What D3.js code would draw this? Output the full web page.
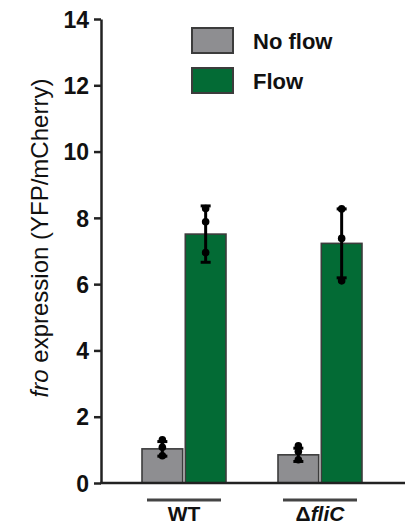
<!DOCTYPE html>
<html>
<head>
<meta charset="utf-8">
<script src="https://cdn.jsdelivr.net/npm/d3@7/dist/d3.min.js"></script>
<style>
  html, body { margin: 0; padding: 0; background: #fff; }
  svg { display: block; }
  text { font-family: "Liberation Sans", Arial, sans-serif; fill: #111; }
</style>
</head>
<body>
<svg id="chart" width="416" height="525"></svg>
<script>
// ---- data ----
const groups = ["WT", "ΔfliC"];
const series = ["No flow", "Flow"];
const colors = ["#8e8e91", "#036b35"];
// means [group][series]
const meanNoFlow = [1.03, 0.85];
const meanFlow = [7.51, 7.23];
const sdNoFlow = [0.22, 0.2];
const sdFlow = [0.85, 1.04];
const pointsNoFlow = [[1.3, 1.08, 0.82], [1.12, 0.95, 0.7]];
const pointsFlow = [[8.28, 7.88, 6.95], [8.27, 7.38, 6.1]];
const yTicks = [0, 2, 4, 6, 8, 10, 12, 14];

const means = [meanNoFlow, meanFlow];
const sds = [sdNoFlow, sdFlow];
const pts = [pointsNoFlow, pointsFlow];

const svg = d3.select("#chart");

const y = d3.scaleLinear().domain([0, 14]).range([483, 19]);
const xg = d3.scalePoint().domain(groups).range([184, 320]);
const xs = d3.scaleBand().domain(series).range([-42, 42]).paddingInner(0.06);

const axisX0 = 101, axisX1 = 405;

// bars
const data = [];
groups.forEach((g, gi) => series.forEach((s, si) => {
  data.push({g, s, si, mean: means[si][gi], sd: sds[si][gi], points: pts[si][gi]});
}));

const barG = svg.append("g");
barG.selectAll("rect").data(data).join("rect")
  .attr("x", d => xg(d.g) + xs(d.s))
  .attr("y", d => y(d.mean))
  .attr("width", xs.bandwidth())
  .attr("height", d => y(0) - y(d.mean))
  .attr("fill", d => colors[d.si])
  .attr("stroke", "#3c3c3c")
  .attr("stroke-width", 1.6);

// error bars
const eb = svg.append("g");
data.forEach(d => {
  const cx = xg(d.g) + xs(d.s) + xs.bandwidth() / 2;
  eb.append("line").attr("x1", cx).attr("x2", cx)
    .attr("y1", y(d.mean - d.sd)).attr("y2", y(d.mean + d.sd))
    .attr("stroke", "#000").attr("stroke-width", 3);
  [d.mean - d.sd, d.mean + d.sd].forEach(v => {
    eb.append("line").attr("x1", cx - 5).attr("x2", cx + 5)
      .attr("y1", y(v)).attr("y2", y(v))
      .attr("stroke", "#000").attr("stroke-width", 3);
  });
  eb.selectAll(null).data(d.points).join("circle")
    .attr("cx", cx).attr("cy", v => y(v)).attr("r", 3.8).attr("fill", "#000");
});

// y axis
const yAxis = svg.append("g").attr("transform", `translate(${axisX0},0)`)
  .call(d3.axisLeft(y).tickValues(yTicks).tickSize(7).tickSizeOuter(0).tickPadding(5));
yAxis.select(".domain").attr("stroke", "#222").attr("stroke-width", 2.5);
yAxis.selectAll(".tick line").attr("stroke", "#222").attr("stroke-width", 2.5);
yAxis.selectAll(".tick text")
  .style("font-family", "'Liberation Sans', Arial, sans-serif")
  .style("font-size", "23px").style("font-weight", "bold").attr("fill", "#111")
  .attr("dy", "0.36em");

// x axis line
svg.append("line").attr("x1", axisX0 - 1).attr("x2", axisX1)
  .attr("y1", y(0)).attr("y2", y(0))
  .attr("stroke", "#222").attr("stroke-width", 2.5);

// group underlines and labels
groups.forEach(g => {
  const c = xg(g);
  svg.append("line").attr("x1", c - 37).attr("x2", c + 37)
    .attr("y1", 500).attr("y2", 500).attr("stroke", "#444").attr("stroke-width", 3);
  const t = svg.append("text").attr("x", c).attr("y", 521)
    .attr("text-anchor", "middle").style("font-size", "21px").style("font-weight", "bold");
  if (g.startsWith("Δ")) {
    t.append("tspan").text("Δ");
    t.append("tspan").style("font-style", "italic").text(g.slice(1));
  } else {
    t.text(g);
  }
});

// legend
series.forEach((s, i) => {
  const yy = 28 + i * 40;
  svg.append("rect").attr("x", 192).attr("y", yy).attr("width", 41).attr("height", 25)
    .attr("fill", colors[i]).attr("stroke", "#3c3c3c").attr("stroke-width", 2);
  svg.append("text").attr("x", 253).attr("y", yy + 21)
    .style("font-size", "22px").style("font-weight", "bold").text(s);
});

// y label
const yl = svg.append("text")
  .attr("transform", "translate(48,238) rotate(-90)")
  .attr("text-anchor", "middle").style("font-size", "24px").attr("fill", "#1a1a1a");
yl.append("tspan").style("font-style", "italic").text("fro");
yl.append("tspan").text(" expression (YFP/mCherry)");
</script>
</body>
</html>
